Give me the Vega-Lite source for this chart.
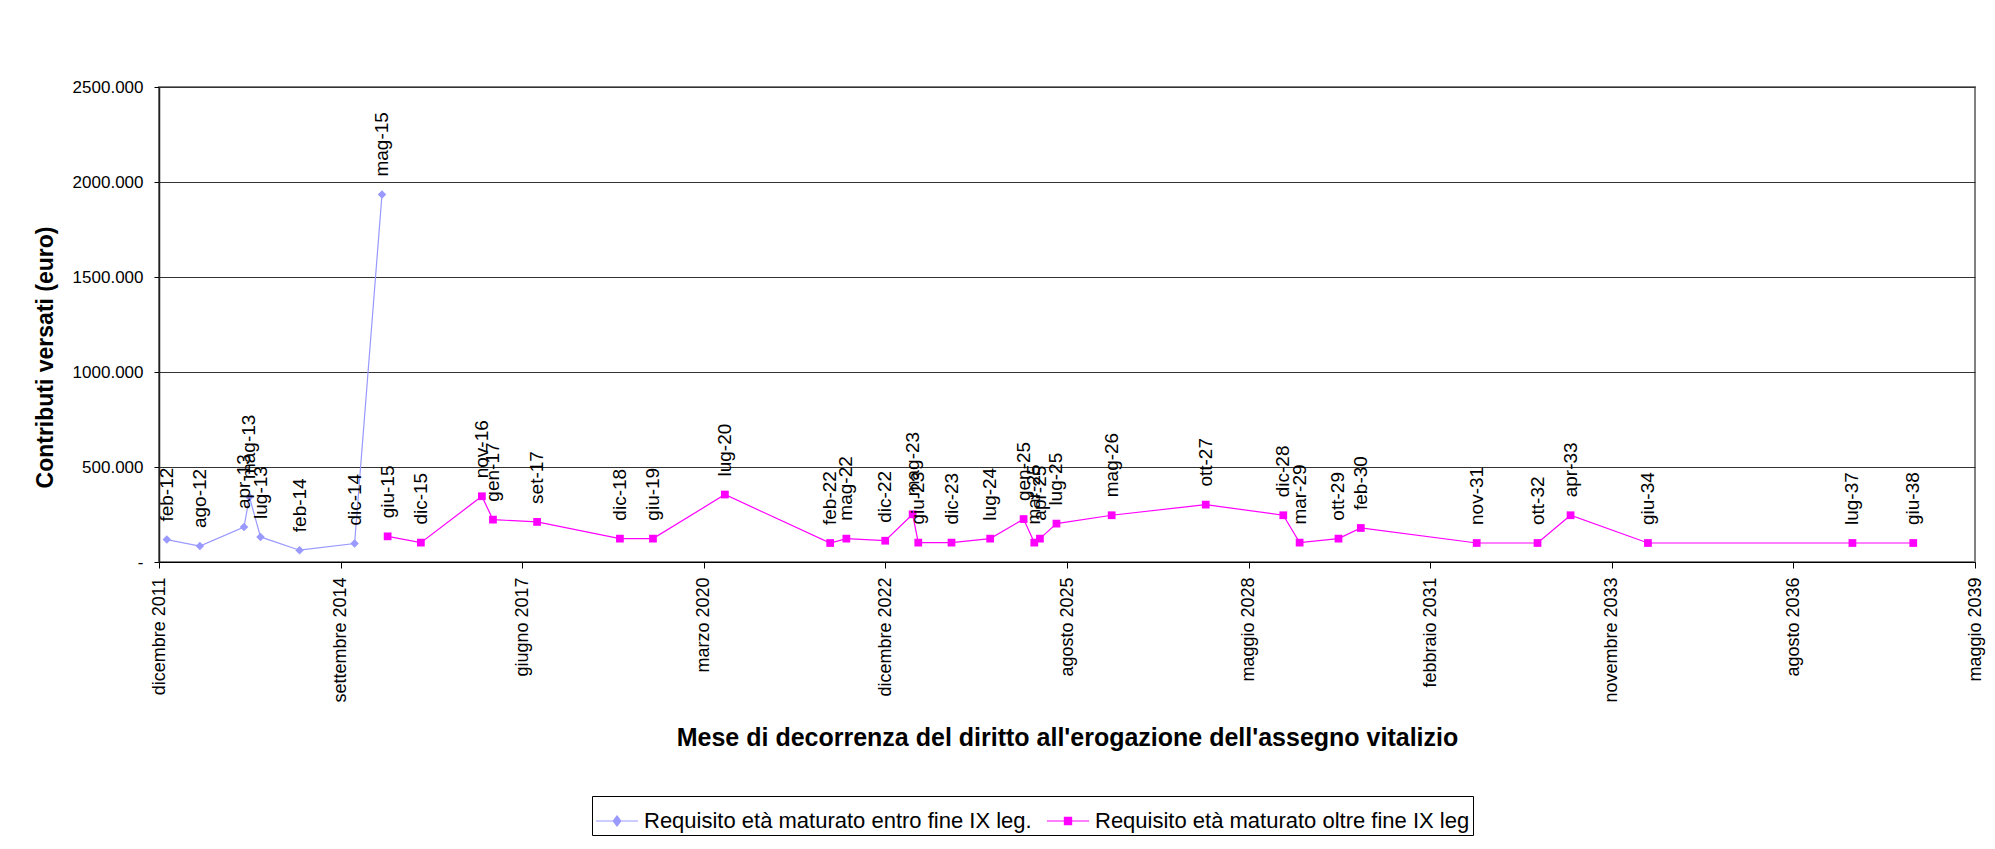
{
  "$schema": "https://vega.github.io/schema/vega-lite/v6.json",
  "width": 1816,
  "height": 475,
  "autosize": {"type": "none"},
  "padding": {"left": 159, "top": 87, "right": 20, "bottom": 287},
  "background": "white",
  "config": {
    "view": {"stroke": "#808080", "strokeWidth": 2},
    "font": "Liberation Sans"
  },
  "data": {
    "values": [
      {"serie": "Requisito età maturato entro fine IX leg.", "date": "2012-02-01", "etichetta": "feb-12", "valore": 118000},
      {"serie": "Requisito età maturato entro fine IX leg.", "date": "2012-08-01", "etichetta": "ago-12", "valore": 84000},
      {"serie": "Requisito età maturato entro fine IX leg.", "date": "2013-04-01", "etichetta": "apr-13", "valore": 184000},
      {"serie": "Requisito età maturato entro fine IX leg.", "date": "2013-05-01", "etichetta": "mag-13", "valore": 342000},
      {"serie": "Requisito età maturato entro fine IX leg.", "date": "2013-07-01", "etichetta": "lug-13", "valore": 132000},
      {"serie": "Requisito età maturato entro fine IX leg.", "date": "2014-02-01", "etichetta": "feb-14", "valore": 62000},
      {"serie": "Requisito età maturato entro fine IX leg.", "date": "2014-12-01", "etichetta": "dic-14", "valore": 97000},
      {"serie": "Requisito età maturato entro fine IX leg.", "date": "2015-05-01", "etichetta": "mag-15", "valore": 1934000},
      {"serie": "Requisito età maturato oltre fine IX leg", "date": "2015-06-01", "etichetta": "giu-15", "valore": 135000},
      {"serie": "Requisito età maturato oltre fine IX leg", "date": "2015-12-01", "etichetta": "dic-15", "valore": 102000},
      {"serie": "Requisito età maturato oltre fine IX leg", "date": "2016-11-01", "etichetta": "nov-16", "valore": 346000},
      {"serie": "Requisito età maturato oltre fine IX leg", "date": "2017-01-01", "etichetta": "gen-17", "valore": 223000},
      {"serie": "Requisito età maturato oltre fine IX leg", "date": "2017-09-01", "etichetta": "set-17", "valore": 211000},
      {"serie": "Requisito età maturato oltre fine IX leg", "date": "2018-12-01", "etichetta": "dic-18", "valore": 123000},
      {"serie": "Requisito età maturato oltre fine IX leg", "date": "2019-06-01", "etichetta": "giu-19", "valore": 123000},
      {"serie": "Requisito età maturato oltre fine IX leg", "date": "2020-07-01", "etichetta": "lug-20", "valore": 355000},
      {"serie": "Requisito età maturato oltre fine IX leg", "date": "2022-02-01", "etichetta": "feb-22", "valore": 100000},
      {"serie": "Requisito età maturato oltre fine IX leg", "date": "2022-05-01", "etichetta": "mag-22", "valore": 123000},
      {"serie": "Requisito età maturato oltre fine IX leg", "date": "2022-12-01", "etichetta": "dic-22", "valore": 112000},
      {"serie": "Requisito età maturato oltre fine IX leg", "date": "2023-05-01", "etichetta": "mag-23", "valore": 251000},
      {"serie": "Requisito età maturato oltre fine IX leg", "date": "2023-06-01", "etichetta": "giu-23", "valore": 102000},
      {"serie": "Requisito età maturato oltre fine IX leg", "date": "2023-12-01", "etichetta": "dic-23", "valore": 102000},
      {"serie": "Requisito età maturato oltre fine IX leg", "date": "2024-07-01", "etichetta": "lug-24", "valore": 123000},
      {"serie": "Requisito età maturato oltre fine IX leg", "date": "2025-01-01", "etichetta": "gen-25", "valore": 226000},
      {"serie": "Requisito età maturato oltre fine IX leg", "date": "2025-03-01", "etichetta": "mar-25", "valore": 102000},
      {"serie": "Requisito età maturato oltre fine IX leg", "date": "2025-04-01", "etichetta": "apr-25", "valore": 123000},
      {"serie": "Requisito età maturato oltre fine IX leg", "date": "2025-07-01", "etichetta": "lug-25", "valore": 202000},
      {"serie": "Requisito età maturato oltre fine IX leg", "date": "2026-05-01", "etichetta": "mag-26", "valore": 246000},
      {"serie": "Requisito età maturato oltre fine IX leg", "date": "2027-10-01", "etichetta": "ott-27", "valore": 302000},
      {"serie": "Requisito età maturato oltre fine IX leg", "date": "2028-12-01", "etichetta": "dic-28", "valore": 246000},
      {"serie": "Requisito età maturato oltre fine IX leg", "date": "2029-03-01", "etichetta": "mar-29", "valore": 102000},
      {"serie": "Requisito età maturato oltre fine IX leg", "date": "2029-10-01", "etichetta": "ott-29", "valore": 123000},
      {"serie": "Requisito età maturato oltre fine IX leg", "date": "2030-02-01", "etichetta": "feb-30", "valore": 179000},
      {"serie": "Requisito età maturato oltre fine IX leg", "date": "2031-11-01", "etichetta": "nov-31", "valore": 100000},
      {"serie": "Requisito età maturato oltre fine IX leg", "date": "2032-10-01", "etichetta": "ott-32", "valore": 100000},
      {"serie": "Requisito età maturato oltre fine IX leg", "date": "2033-04-01", "etichetta": "apr-33", "valore": 246000},
      {"serie": "Requisito età maturato oltre fine IX leg", "date": "2034-06-01", "etichetta": "giu-34", "valore": 100000},
      {"serie": "Requisito età maturato oltre fine IX leg", "date": "2037-07-01", "etichetta": "lug-37", "valore": 100000},
      {"serie": "Requisito età maturato oltre fine IX leg", "date": "2038-06-01", "etichetta": "giu-38", "valore": 100000}
    ]
  },
  "encoding": {
    "x": {
      "field": "date",
      "type": "temporal",
      "scale": {
        "type": "utc",
        "domain": [
          {"year": 2011, "month": 12, "date": 20, "utc": true},
          {"year": 2039, "month": 5, "date": 7, "utc": true}
        ]
      },
      "axis": {
        "title": "Mese di decorrenza del diritto all'erogazione dell'assegno vitalizio",
        "titleFontSize": 25,
        "titleFontWeight": "bold",
        "titleColor": "black",
        "titleY": 183,
        "titleBaseline": "alphabetic",
        "values": [
          {"year": 2011, "month": 12, "date": 20, "utc": true},
          {"year": 2014, "month": 9, "date": 15, "utc": true},
          {"year": 2017, "month": 6, "date": 11, "utc": true},
          {"year": 2020, "month": 3, "date": 7, "utc": true},
          {"year": 2022, "month": 12, "date": 2, "utc": true},
          {"year": 2025, "month": 8, "date": 28, "utc": true},
          {"year": 2028, "month": 5, "date": 24, "utc": true},
          {"year": 2031, "month": 2, "date": 18, "utc": true},
          {"year": 2033, "month": 11, "date": 14, "utc": true},
          {"year": 2036, "month": 8, "date": 10, "utc": true},
          {"year": 2039, "month": 5, "date": 7, "utc": true}
        ],
        "labelExpr": "['gennaio','febbraio','marzo','aprile','maggio','giugno','luglio','agosto','settembre','ottobre','novembre','dicembre'][utcmonth(datum.value)] + ' ' + utcyear(datum.value)",
        "labelAngle": 270,
        "labelFontSize": 18,
        "labelColor": "black",
        "labelPadding": 9,
        "labelFlush": false,
        "labelOverlap": false,
        "labelBound": false,
        "tickSize": 6,
        "tickColor": "black",
        "domainColor": "black",
        "grid": false
      }
    },
    "y": {
      "field": "valore",
      "type": "quantitative",
      "scale": {"domain": [0, 2500000]},
      "axis": {
        "title": "Contributi versati (euro)",
        "titleFontSize": 23,
        "titleFontWeight": "bold",
        "titleColor": "black",
        "titleX": -102,
        "titleY": 270,
        "titleAngle": 270,
        "titleAlign": "center",
        "titleBaseline": "bottom",
        "values": [0, 500000, 1000000, 1500000, 2000000, 2500000],
        "labelExpr": "datum.value == 0 ? '-\u00a0\u00a0\u00a0\u00a0' : format(datum.value / 1000, 'd') + '.000'",
        "labelFontSize": 17,
        "labelColor": "black",
        "labelPadding": 11,
        "labelFlush": false,
        "tickSize": 5,
        "tickColor": "black",
        "domainColor": "#222222",
        "domainWidth": 1.5,
        "grid": true,
        "gridColor": "#333333",
        "gridWidth": 1
      }
    },
    "color": {
      "field": "serie",
      "type": "nominal",
      "scale": {
        "domain": ["Requisito età maturato entro fine IX leg.", "Requisito età maturato oltre fine IX leg"],
        "range": ["#9999FF", "#FF00FF"]
      },
      "legend": {
        "title": null,
        "orient": "none",
        "legendX": 433,
        "legendY": 709,
        "direction": "horizontal",
        "columns": 2,
        "padding": 3,
        "strokeColor": "#000000",
        "fillColor": "white",
        "labelFontSize": 22,
        "labelColor": "black",
        "labelLimit": 600,
        "labelOffset": 5,
        "columnPadding": 12,
        "symbolSize": 1764,
        "symbolStrokeWidth": 1.2,
        "encode": {
          "symbols": {
            "update": {
              "shape": {"signal": "indexof(datum.value, 'entro') >= 0 ? 'M-1,0H1M0,-0.24L0.18,0L0,0.24L-0.18,0Z' : 'M-1,0H1M-0.17,-0.17H0.17V0.17H-0.17Z'"},
              "fill": {"signal": "indexof(datum.value, 'entro') >= 0 ? '#9999FF' : '#FF00FF'"},
              "stroke": {"signal": "indexof(datum.value, 'entro') >= 0 ? '#9999FF' : '#FF00FF'"},
              "opacity": {"value": 1}
            }
          }
        }
      }
    }
  },
  "layer": [
    {"mark": {"type": "line", "strokeWidth": 1.2}},
    {
      "transform": [{"filter": "indexof(datum.serie, 'entro') >= 0"}],
      "mark": {"type": "point", "filled": true, "size": 72, "opacity": 1, "shape": "diamond"}
    },
    {
      "transform": [{"filter": "indexof(datum.serie, 'oltre') >= 0"}],
      "mark": {"type": "point", "filled": true, "size": 60, "opacity": 1, "shape": "square"}
    },
    {
      "mark": {"type": "text", "angle": 270, "align": "left", "baseline": "middle", "dx": 18, "fontSize": 19},
      "encoding": {
        "text": {"field": "etichetta"},
        "color": {"value": "black"}
      }
    }
  ]
}
